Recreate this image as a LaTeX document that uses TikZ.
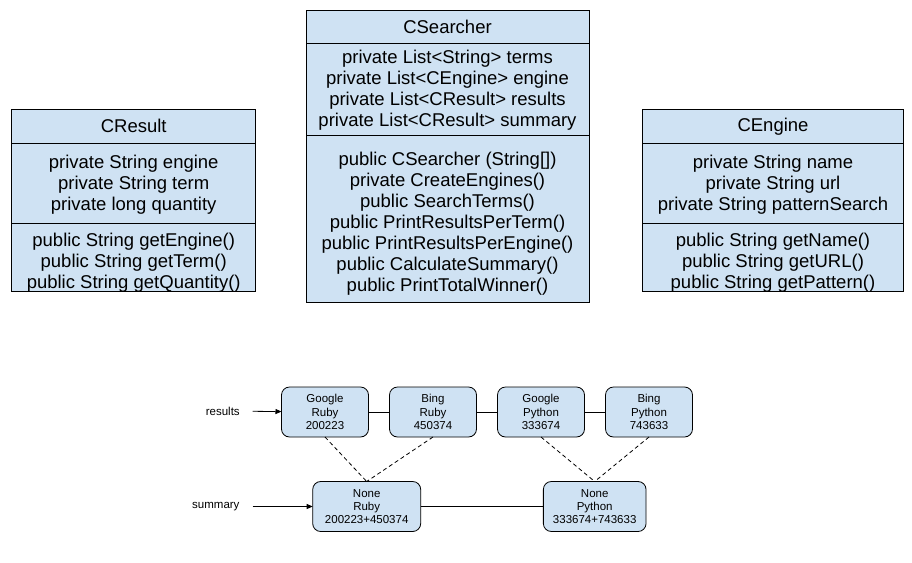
\documentclass[tikz,border=0pt]{standalone}
\usepackage{fontspec}
\setmainfont{Liberation Sans}
\usepackage{xcolor}
\usetikzlibrary{positioning, arrows.meta}
\definecolor{boxblue}{HTML}{CFE2F3}
% taller first line pushes the text block down a little
\newcommand{\pad}[1]{\rule{0pt}{#1}}

\begin{document}
\begin{tikzpicture}[
  x=1pt, y=-1pt,
  every node/.style={outer sep=0pt},
  part/.style={draw, fill=boxblue, line width=0.8pt, inner sep=0pt, align=center, font=\fontsize{18.5}{21}\selectfont},
  title/.style={part, anchor=north},
  cell/.style={draw, fill=boxblue, line width=0.8pt, rounded corners=8pt, minimum width=87pt, minimum height=50pt, inner sep=0pt, align=center, font=\fontsize{11.5}{13.3}\selectfont},
  lbl/.style={inner sep=0pt, outer xsep=13pt, anchor=east, font=\fontsize{11.5}{13.3}\selectfont},
  link/.style={line width=0.8pt},
  ptr/.style={line width=0.8pt, -{Triangle[length=6pt,width=5pt]}},
  dashlink/.style={line width=0.8pt, dash pattern=on 4pt off 3pt}
]
\useasboundingbox (0,0) rectangle (912,562);

% CResult
\node[title, minimum width=244pt, minimum height=33.5pt] (rt) at (133.7,109.5) {CResult};
\node[part, minimum width=244pt, minimum height=80pt, below=0pt of rt] (ra) {\pad{17.5pt}private String engine\\private String term\\private long quantity};
\node[part, minimum width=244pt, minimum height=67pt, below=0pt of ra] (rm) {\pad{23pt}public String getEngine()\\public String getTerm()\\public String getQuantity()};

% CSearcher
\node[title, minimum width=283pt, minimum height=32.3pt] (st) at (447.5,10.7) {CSearcher};
\node[part, minimum width=283pt, minimum height=92pt, below=0pt of st] (sa) {\pad{16.5pt}private List<String> terms\\private List<CEngine> engine\\private List<CResult> results\\private List<CResult> summary};
\node[part, minimum width=283pt, minimum height=167.7pt, below=0pt of sa] (sm) {\pad{24pt}public CSearcher (String[])\\private CreateEngines()\\public SearchTerms()\\public PrintResultsPerTerm()\\public PrintResultsPerEngine()\\public CalculateSummary()\\public PrintTotalWinner()};

% CEngine
\node[title, minimum width=260.6pt, minimum height=33.5pt] (et) at (773,109.5) {CEngine};
\node[part, minimum width=260.6pt, minimum height=80pt, below=0pt of et] (ea) {\pad{17.5pt}private String name\\private String url\\private String patternSearch};
\node[part, minimum width=260.6pt, minimum height=67pt, below=0pt of ea] (em) {\pad{23pt}public String getName()\\public String getURL()\\public String getPattern()};

% results list
\node[cell] (gr) at (325,412) {Google\\Ruby\\200223};
\node[cell, right=21pt of gr] (br) {Bing\\Ruby\\450374};
\node[cell, right=21pt of br] (gp) {Google\\Python\\333674};
\node[cell, right=21pt of gp] (bp) {Bing\\Python\\743633};

% summary list
\node[cell, minimum width=108pt] (nr) at (366.7,506.5) {None\\Ruby\\200223+450374};
\node[cell, minimum width=102.7pt] (np) at (594.7,506.5) {None\\Python\\333674+743633};

\node[lbl] (lres) at (252.7,411) {results};
\node[lbl] (lsum) at (252.5,506.5) {summary};

\draw[ptr] (lres) -- (gr);
\draw[ptr] (lsum) -- (nr);
\draw[link] (gr) -- (br);
\draw[link] (br) -- (gp);
\draw[link] (gp) -- (bp);
\draw[link] (nr) -- (np);
\draw[dashlink] (gr.south) -- (nr.north);
\draw[dashlink] (br.south) -- (nr.north);
\draw[dashlink] (gp.south) -- (np.north);
\draw[dashlink] (bp.south) -- (np.north);
\end{tikzpicture}
\end{document}
